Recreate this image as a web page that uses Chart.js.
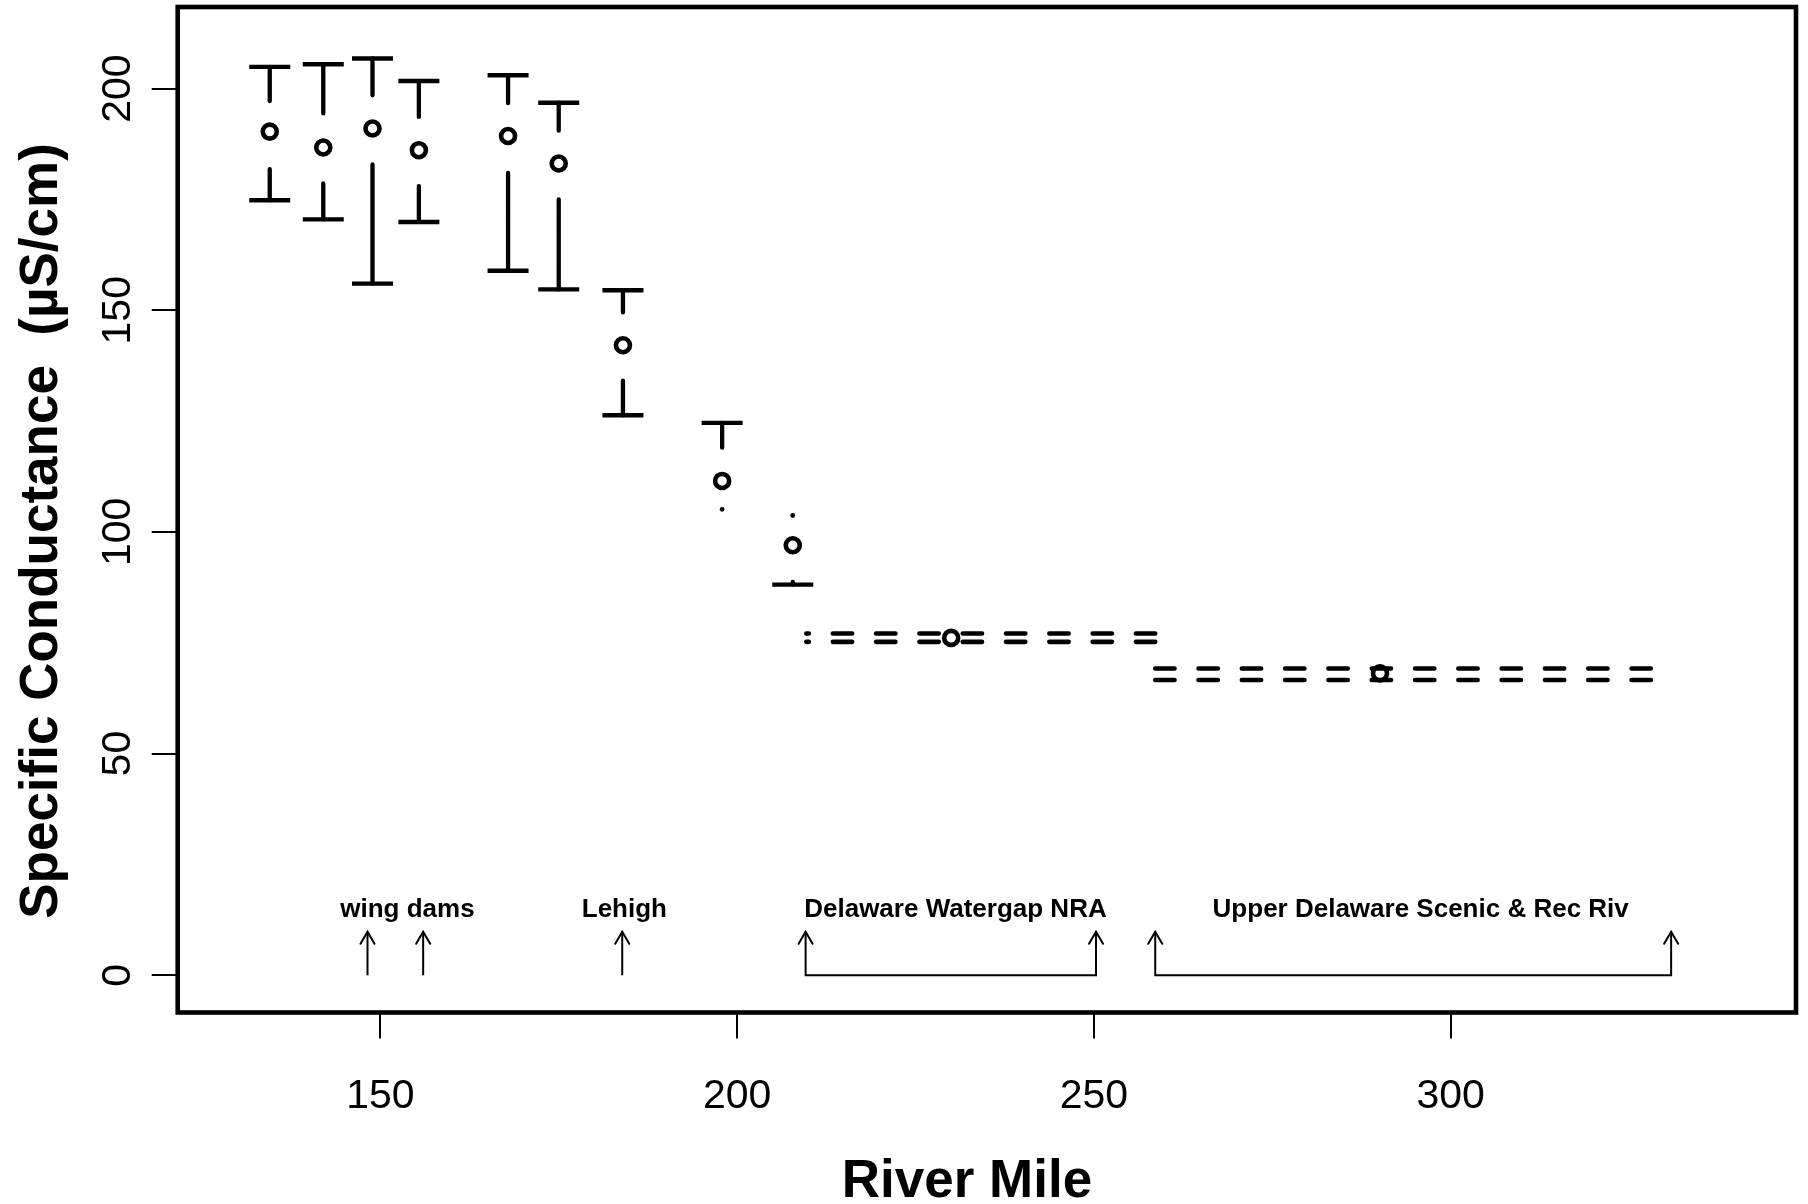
<!DOCTYPE html>
<html>
<head>
<meta charset="utf-8">
<script src="https://cdn.jsdelivr.net/npm/chart.js@4.4.1/dist/chart.umd.min.js"></script>
<style>
  html, body { margin: 0; padding: 0; background: #fff; }
  canvas { display: block; }
</style>
</head>
<body>
<canvas id="chart" width="1808" height="1204"></canvas>
<script>
// station summaries (river mile, whisker ends, quartiles, centre)
const boxMiles = [134.5, 142.0, 148.9, 155.4, 167.9, 175.0, 184.0, 197.9, 207.8];
const boxMax = [204.9, 205.5, 206.8, 201.7, 203.0, 196.8, 154.5, 124.6, 103.7];
const boxQ3 = [197.2, 194.4, 198.5, 193.6, 196.7, 190.5, 149.5, 119.0, 103.7];
const boxMid = [190.3, 186.7, 191.0, 186.1, 189.3, 183.1, 142.1, 111.5, 97.0];
const boxQ1 = [181.8, 178.6, 182.9, 178.0, 181.0, 175.0, 134.1, 105.1, 88.7];
const boxMin = [174.8, 170.5, 156.0, 169.9, 158.9, 154.7, 126.3, 105.1, 88.1];

// reach-wide summaries (drawn as long dashed bands)
const reachStart = [209.7, 258.6];
const reachEnd = [258.6, 328.4];
const reachHigh = [77.1, 69.2];
const reachLow = [75.2, 66.6];
const reachMidMile = [230.0, 290.1];
const reachMid = [76.1, 68.1];

// annotations along the bottom
const arrowMiles = [148.2, 156.0, 183.9];
const bracketStart = [209.6, 258.6];
const bracketEnd = [250.3, 330.9];
const arrowTop = 9.8;
const labelText = ['wing dams', 'Lehigh', 'Delaware Watergap NRA', 'Upper Delaware Scenic & Rec Riv'];
const labelMiles = [153.8, 184.2, 230.6, 295.8];
const labelLevel = 13.1;

const xTicks = [150, 200, 250, 300];
const yTicks = [0, 50, 100, 150, 200];

const FONT = '"Liberation Sans", Arial, Helvetica, sans-serif';

function whiskerData() {
    const pts = [];
    boxMiles.forEach((m, i) => {
        if (boxMax[i] > boxQ3[i]) {
            pts.push({x: m, y: boxQ3[i]}, {x: m, y: boxMax[i]}, {x: m, y: null});
        }
        if (boxQ1[i] > boxMin[i]) {
            pts.push({x: m, y: boxQ1[i]}, {x: m, y: boxMin[i]}, {x: m, y: null});
        }
    });
    return pts;
}

function capData() {
    const pts = [];
    boxMiles.forEach((m, i) => {
        if (boxMax[i] > boxQ3[i]) pts.push({x: m, y: boxMax[i]});
        if (boxQ1[i] > boxMin[i]) pts.push({x: m, y: boxMin[i]});
    });
    return pts;
}

function dotData() {
    const pts = [];
    boxMiles.forEach((m, i) => {
        if (boxMax[i] === boxQ3[i]) pts.push({x: m, y: boxMax[i]});
        if (boxQ1[i] === boxMin[i]) pts.push({x: m, y: boxMin[i]});
    });
    return pts;
}

function shaftData() {
    const pts = [];
    arrowMiles.forEach((m) => {
        pts.push({x: m, y: 0}, {x: m, y: arrowTop}, {x: m, y: null});
    });
    bracketStart.forEach((a, i) => {
        const b = bracketEnd[i];
        pts.push({x: a, y: arrowTop}, {x: a, y: 0}, {x: b, y: 0}, {x: b, y: arrowTop}, {x: b, y: null});
    });
    return pts;
}

function reachLine(i, level) {
    // first reach is traced from its downstream end, second from upstream
    const a = {x: reachStart[i], y: level};
    const b = {x: reachEnd[i], y: level};
    return {
        type: 'line',
        data: i === 0 ? [b, a] : [a, b],
        borderColor: '#000',
        borderWidth: 4.6,
        borderDash: [19.3, 24],
        borderCapStyle: 'round',
        pointRadius: 0,
    };
}

const frameAndText = {
    id: 'frameAndText',
    afterDatasetsDraw(chart) {
        const {ctx, scales: {x, y}} = chart;
        ctx.save();
        ctx.strokeStyle = '#000';
        ctx.lineWidth = 2;
        ctx.lineCap = 'round';
        [...arrowMiles, ...bracketStart, ...bracketEnd].forEach((m) => {
            const px = x.getPixelForValue(m);
            const py = y.getPixelForValue(arrowTop);
            ctx.beginPath();
            ctx.moveTo(px - 7, py + 12);
            ctx.lineTo(px, py);
            ctx.lineTo(px + 7, py + 12);
            ctx.stroke();
        });
        ctx.fillStyle = '#000';
        ctx.font = 'bold 26px ' + FONT;
        ctx.textAlign = 'center';
        ctx.textBaseline = 'alphabetic';
        labelText.forEach((t, i) => {
            ctx.fillText(t, x.getPixelForValue(labelMiles[i]), y.getPixelForValue(labelLevel));
        });
        ctx.restore();
    },
    afterDraw(chart) {
        const {ctx, chartArea: a, scales: {x, y}} = chart;
        ctx.save();
        ctx.strokeStyle = '#000';
        ctx.lineWidth = 4.6;
        ctx.strokeRect(a.left, a.top, a.right - a.left, a.bottom - a.top);

        ctx.fillStyle = '#000';
        ctx.textAlign = 'center';
        ctx.textBaseline = 'alphabetic';
        ctx.font = '41px ' + FONT;
        xTicks.forEach((v) => ctx.fillText(String(v), x.getPixelForValue(v), 1108));
        yTicks.forEach((v) => {
            ctx.save();
            ctx.translate(130, y.getPixelForValue(v));
            ctx.rotate(-Math.PI / 2);
            ctx.fillText(String(v), 0, 0);
            ctx.restore();
        });

        ctx.font = 'bold 53px ' + FONT;
        ctx.fillText('River Mile', 967, 1197);
        ctx.translate(57, 531);
        ctx.rotate(-Math.PI / 2);
        ctx.fillText('Specific Conductance  (\u00B5S/cm)', 0, 0);
        ctx.restore();
    },
};

new Chart(document.getElementById('chart'), {
    type: 'scatter',
    data: {
        datasets: [
            {
                data: boxMiles.map((m, i) => ({x: m, y: boxMid[i]}))
                    .concat(reachMidMile.map((m, i) => ({x: m, y: reachMid[i]}))),
                pointStyle: 'circle',
                pointRadius: 7,
                borderWidth: 4.6,
                borderColor: '#000',
                backgroundColor: 'rgba(0,0,0,0)',
            },
            {
                data: capData(),
                pointStyle: 'line',
                pointRadius: 20.5,
                borderWidth: 4.4,
                borderColor: '#000',
            },
            {
                data: dotData(),
                pointStyle: 'circle',
                pointRadius: 2.4,
                borderWidth: 0,
                backgroundColor: '#000',
            },
            {
                type: 'line',
                data: whiskerData(),
                borderColor: '#000',
                borderWidth: 4.3,
                borderCapStyle: 'round',
                pointRadius: 0,
                spanGaps: false,
            },
            reachLine(0, reachHigh[0]),
            reachLine(0, reachLow[0]),
            reachLine(1, reachHigh[1]),
            reachLine(1, reachLow[1]),
            {
                type: 'line',
                data: shaftData(),
                borderColor: '#000',
                borderWidth: 2,
                pointRadius: 0,
                spanGaps: false,
            },
        ],
    },
    options: {
        responsive: false,
        animation: false,
        devicePixelRatio: 1,
        layout: {autoPadding: false, padding: {left: 0, right: 12, top: 7, bottom: 0}},
        plugins: {legend: {display: false}, tooltip: {enabled: false}},
        scales: {
            x: {
                type: 'linear',
                min: 121.6,
                max: 348.4,
                afterBuildTicks: (s) => { s.ticks = xTicks.map((v) => ({value: v})); },
                afterFit: (s) => { s.height = 191.5; },
                ticks: {display: false},
                border: {display: false},
                grid: {drawOnChartArea: false, drawTicks: true, tickLength: 26, color: '#000', lineWidth: 2},
            },
            y: {
                type: 'linear',
                min: -8.4,
                max: 218.4,
                afterBuildTicks: (s) => { s.ticks = yTicks.map((v) => ({value: v})); },
                afterFit: (s) => { s.width = 177.7; },
                ticks: {display: false},
                border: {display: false},
                grid: {drawOnChartArea: false, drawTicks: true, tickLength: 26, color: '#000', lineWidth: 2},
            },
        },
    },
    plugins: [frameAndText],
});
</script>
</body>
</html>
